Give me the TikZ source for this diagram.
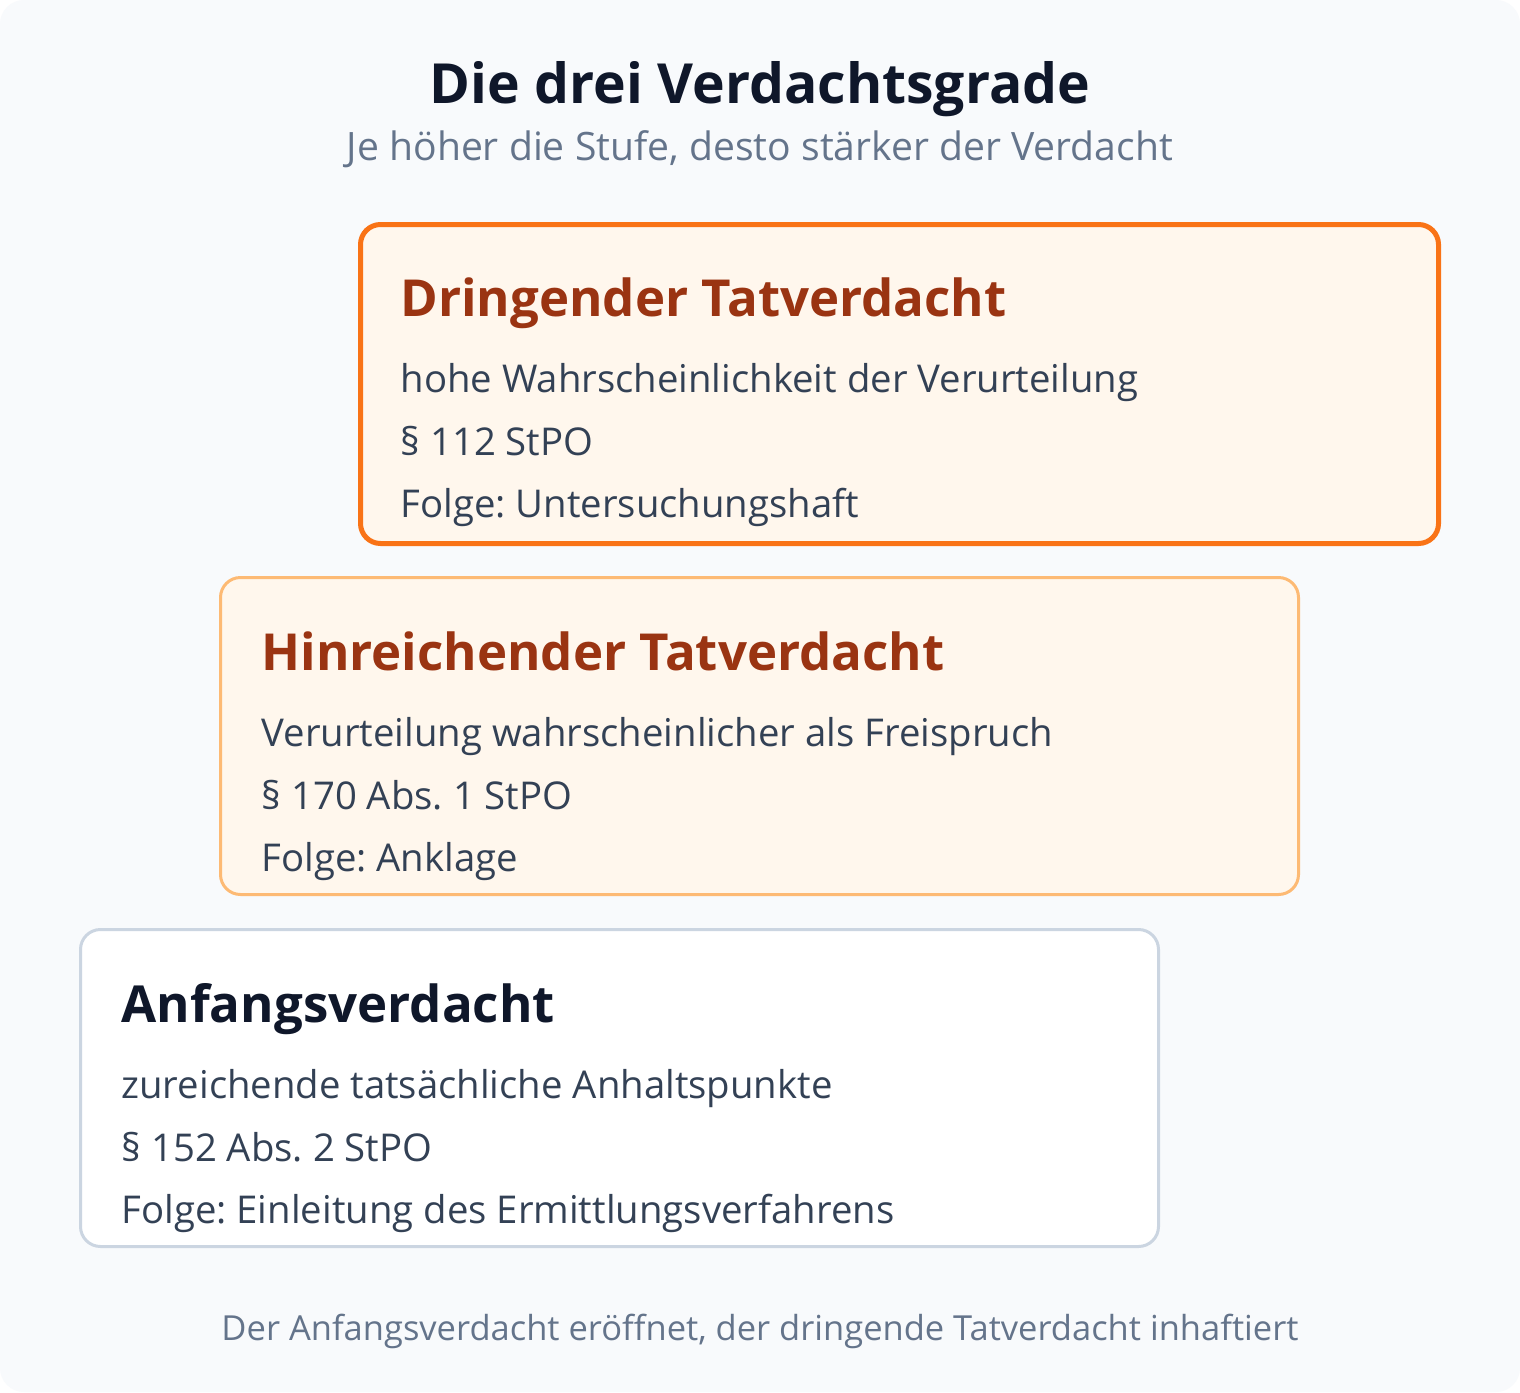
\documentclass[tikz,border=0pt]{standalone}
\usepackage{fontspec}
\setmainfont{Open Sans}
\frenchspacing

\definecolor{pagebg}{HTML}{F8FAFC}
\definecolor{ink}{HTML}{0F172A}
\definecolor{muted}{HTML}{64748B}
\definecolor{body}{HTML}{334155}
\definecolor{rust}{HTML}{9A3412}
\definecolor{cream}{HTML}{FFF7ED}
\definecolor{orangehi}{HTML}{F97316}
\definecolor{orangelo}{HTML}{FDBA74}
\definecolor{slateline}{HTML}{CBD5E1}

\tikzset{
  stepbox/.style={rounded corners=20pt},
  headtext/.style={anchor=base west,font=\fontsize{51}{58}\selectfont\bfseries},
  linetext/.style={anchor=base west,text=body,font=\fontsize{38.3}{44}\selectfont}
}

\begin{document}
\begin{tikzpicture}[x=1pt,y=-1pt]
\useasboundingbox (0,0) rectangle (1520,1392);
\fill[white] (0,0) rectangle (1520,1392);
\fill[pagebg,rounded corners=24pt] (0,0) rectangle (1520,1392);

\node[anchor=base,text=ink,font=\fontsize{55.3}{62}\selectfont\bfseries] (title) at (760,103) {Die drei Verdachtsgrade};
\node[anchor=base,text=muted,font=\fontsize{39.1}{44}\selectfont] (subtitle) at (760,160) {Je höher die Stufe, desto stärker der Verdacht};

% the three steps, strongest suspicion on top
\foreach \n/\x/\y/\w/\h/\fc/\dc/\lw/\hc/\head/\la/\lb/\lc in {%
    D/358/222/1083/324/cream/orangehi/5/rust/Dringender Tatverdacht/hohe Wahrscheinlichkeit der Verurteilung/§ 112 StPO/Folge: Untersuchungshaft,%
    H/219/576/1081/320/cream/orangelo/3/rust/Hinreichender Tatverdacht/Verurteilung wahrscheinlicher als Freispruch/§ 170 Abs. 1 StPO/Folge: Anklage,%
    A/79/928/1081/320/white/slateline/3/ink/Anfangsverdacht/zureichende tatsächliche Anhaltspunkte/§ 152 Abs. 2 StPO/Folge: Einleitung des Ermittlungsverfahrens}{%
  \draw[stepbox,fill=\fc,draw=\dc,line width=\lw pt] (\x+\lw/2,\y+\lw/2) rectangle ++(\w-\lw,\h-\lw);
  \node[headtext,text=\hc] (head\n) at (\x+39,\y+94) {\head};
  \node[linetext] (what\n) at (\x+39,\y+170) {\la};
  \node[linetext] (law\n) at (\x+39,\y+233) {\lb};
  \node[linetext] (then\n) at (\x+39,\y+295) {\lc};
}

\node[anchor=base,text=muted,font=\fontsize{34.5}{40}\selectfont] (footer) at (760,1340) {Der Anfangsverdacht eröffnet, der dringende Tatverdacht inhaftiert};
\end{tikzpicture}
\end{document}
